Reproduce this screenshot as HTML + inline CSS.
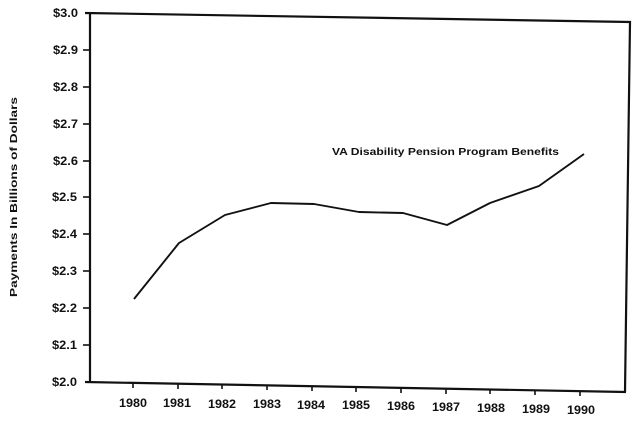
<!DOCTYPE html>
<html>
<head>
<meta charset="utf-8">
<style>
html,body{margin:0;padding:0;background:#fff;}
svg{display:block;}
text{font-family:"Liberation Sans",sans-serif;font-weight:bold;fill:#111;}
</style>
</head>
<body>
<svg width="641" height="421" viewBox="0 0 641 421" xmlns="http://www.w3.org/2000/svg">
<rect width="641" height="421" fill="#fff"/>
<!-- frame -->
<polyline points="85,13 630,22 625,392" fill="none" stroke="#111" stroke-width="2.2"/>
<line x1="90" y1="12" x2="90" y2="383" stroke="#111" stroke-width="2.2"/>
<line x1="85" y1="382" x2="626" y2="392" stroke="#111" stroke-width="2.2"/>
<!-- y ticks -->
<g stroke="#111" stroke-width="1.6">
<line x1="83" y1="50" x2="90" y2="50"/>
<line x1="83" y1="87" x2="90" y2="87"/>
<line x1="83" y1="124" x2="90" y2="124"/>
<line x1="83" y1="161" x2="90" y2="161"/>
<line x1="83" y1="197" x2="90" y2="197"/>
<line x1="83" y1="234" x2="90" y2="234"/>
<line x1="83" y1="271" x2="90" y2="271"/>
<line x1="83" y1="308" x2="90" y2="308"/>
<line x1="83" y1="345" x2="90" y2="345"/>
</g>
<!-- y labels -->
<g font-size="12" text-anchor="end">
<text x="78" y="17" textLength="25" lengthAdjust="spacingAndGlyphs">$3.0</text>
<text x="78" y="54" textLength="25" lengthAdjust="spacingAndGlyphs">$2.9</text>
<text x="78" y="91" textLength="25" lengthAdjust="spacingAndGlyphs">$2.8</text>
<text x="78" y="128" textLength="25" lengthAdjust="spacingAndGlyphs">$2.7</text>
<text x="78" y="165" textLength="25" lengthAdjust="spacingAndGlyphs">$2.6</text>
<text x="77" y="201" textLength="25" lengthAdjust="spacingAndGlyphs">$2.5</text>
<text x="77" y="238" textLength="25" lengthAdjust="spacingAndGlyphs">$2.4</text>
<text x="77" y="275" textLength="25" lengthAdjust="spacingAndGlyphs">$2.3</text>
<text x="77" y="312" textLength="25" lengthAdjust="spacingAndGlyphs">$2.2</text>
<text x="77" y="349" textLength="25" lengthAdjust="spacingAndGlyphs">$2.1</text>
<text x="77" y="386" textLength="25" lengthAdjust="spacingAndGlyphs">$2.0</text>
</g>
<!-- x ticks -->
<g stroke="#111" stroke-width="1.6">
<line x1="133" y1="383" x2="133" y2="388"/>
<line x1="178" y1="384" x2="178" y2="389"/>
<line x1="222" y1="384" x2="222" y2="389"/>
<line x1="267" y1="385" x2="267" y2="390"/>
<line x1="312" y1="386" x2="312" y2="391"/>
<line x1="356" y1="387" x2="356" y2="392"/>
<line x1="401" y1="388" x2="401" y2="393"/>
<line x1="446" y1="389" x2="446" y2="394"/>
<line x1="490" y1="389" x2="490" y2="394"/>
<line x1="535" y1="390" x2="535" y2="395"/>
<line x1="580" y1="391" x2="580" y2="396"/>
</g>
<!-- x labels -->
<g font-size="12" text-anchor="middle">
<text x="133" y="407" textLength="28" lengthAdjust="spacingAndGlyphs">1980</text>
<text x="177" y="407" textLength="28" lengthAdjust="spacingAndGlyphs">1981</text>
<text x="222" y="408" textLength="28" lengthAdjust="spacingAndGlyphs">1982</text>
<text x="267" y="408" textLength="28" lengthAdjust="spacingAndGlyphs">1983</text>
<text x="311" y="409" textLength="28" lengthAdjust="spacingAndGlyphs">1984</text>
<text x="356" y="409" textLength="28" lengthAdjust="spacingAndGlyphs">1985</text>
<text x="401" y="410" textLength="28" lengthAdjust="spacingAndGlyphs">1986</text>
<text x="446" y="411" textLength="28" lengthAdjust="spacingAndGlyphs">1987</text>
<text x="491" y="412" textLength="28" lengthAdjust="spacingAndGlyphs">1988</text>
<text x="536" y="413" textLength="28" lengthAdjust="spacingAndGlyphs">1989</text>
<text x="581" y="414" textLength="28" lengthAdjust="spacingAndGlyphs">1990</text>
</g>
<!-- y axis title -->
<text font-size="10.5" text-anchor="middle" transform="translate(17,197) rotate(-90)" textLength="200" lengthAdjust="spacingAndGlyphs">Payments In Billions of Dollars</text>
<!-- data line -->
<polyline points="134,299 179,243 225,215 271,203 314,204 359,212 403,213 447,225 490,203 539,186 584,154" fill="none" stroke="#111" stroke-width="1.9" stroke-linejoin="round"/>
<!-- series label -->
<text x="332" y="155" font-size="10.5" textLength="227" lengthAdjust="spacingAndGlyphs">VA Disability Pension Program Benefits</text>
</svg>
</body>
</html>
